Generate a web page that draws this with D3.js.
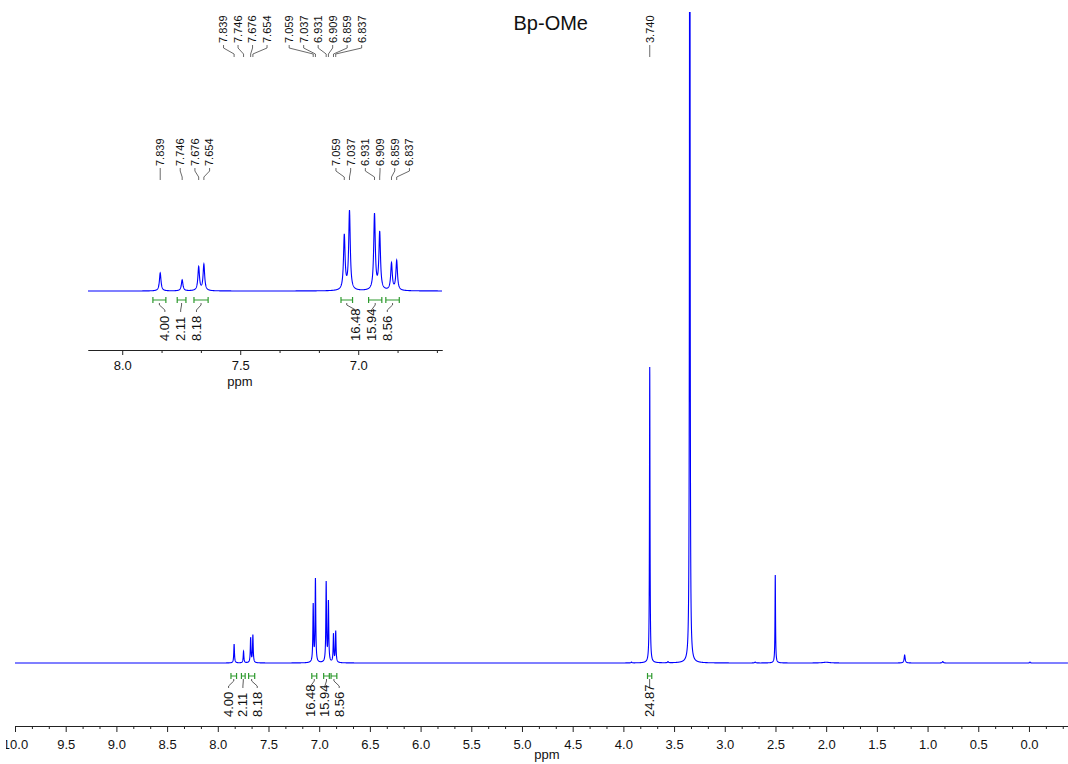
<!DOCTYPE html>
<html>
<head>
<meta charset="utf-8">
<script src="https://cdn.jsdelivr.net/npm/d3@7"></script>
<style>
  html, body { margin: 0; padding: 0; background: #fff; }
  svg { display: block; font-family: "Liberation Sans", Arial, sans-serif; }
</style>
</head>
<body>
<svg id="chart" width="1068" height="764"></svg>
<script>
const TITLE = "Bp-OMe";

// picked peaks: shift (ppm) and height (3.740 singlet = 100)
const peakShifts  = [7.839, 7.746, 7.676, 7.654, 7.059, 7.037, 6.931, 6.909, 6.859, 6.837, 3.740];
const peakHeights = [6.4,   3.9,   8.4,   9.3,   19.3,  28.0,  26.9,  20.3,  9.5,   10.5,  100];
const peakWidths  = [0.004, 0.004, 0.004, 0.004, 0.004, 0.004, 0.004, 0.004, 0.004, 0.004, 0.003];

// unlabelled signals (water, DMSO, grease ...)
const otherShifts  = [3.345,  2.502, 1.226, 0.85,  -0.01, 2.70,  3.92,  3.56,  2.00];
const otherHeights = [520,    29.7,  2.7,   0.5,   0.3,   0.3,   0.3,   0.4,   0.25];
const otherWidths  = [0.0025, 0.003, 0.006, 0.006, 0.004, 0.006, 0.004, 0.005, 0.04];

// integrals
const intStart  = [7.870, 7.767, 7.696, 7.073, 6.956, 6.883, 3.762];
const intEnd    = [7.815, 7.730, 7.636, 7.024, 6.900, 6.826, 3.720];
const intLabels = ["4.00", "2.11", "8.18", "16.48", "15.94", "8.56", "24.87"];

const mainTicks = d3.range(0, 21).map(i => 10 - i * 0.5);
const insetTicks = [8.0, 7.5, 7.0];

const BLUE = "#0000ff";
const GREEN = "#2e9a2e";

const svg = d3.select("#chart");

// --- spectrum from the peak list
const allPeaks = peakShifts.map((s, i) => ({ s, h: peakHeights[i], w: peakWidths[i] }))
  .concat(otherShifts.map((s, i) => ({ s, h: otherHeights[i], w: otherWidths[i] })));

function spectrum(from, to, step) {
  const pts = [];
  for (let p = from; p >= to; p -= step) {
    let y = 0;
    for (const pk of allPeaks) {
      const d = (p - pk.s) / pk.w;
      y += pk.h / (1 + d * d);
    }
    pts.push([p, y]);
  }
  return pts;
}

// labels pushed apart so they do not overlap; close ones are packed as one block
function spread(xs, gap, mergeDist) {
  const md = mergeDist || gap;
  let groups = xs.map((x, i) => ({ items: [{ x, i }], c: x })).sort((a, b) => a.c - b.c);
  let merged = true;
  while (merged) {
    merged = false;
    for (let k = 0; k < groups.length - 1; k++) {
      const a = groups[k], b = groups[k + 1];
      const aR = a.c + (a.items.length - 1) * gap / 2;
      const bL = b.c - (b.items.length - 1) * gap / 2;
      if (bL - aR < md) {
        const items = a.items.concat(b.items);
        groups.splice(k, 2, { items, c: d3.mean(items, d => d.x) });
        merged = true;
        break;
      }
    }
  }
  const out = [];
  groups.forEach(g => {
    g.items.sort((a, b) => a.x - b.x);
    g.items.forEach((it, j) => { out[it.i] = g.c + (j - (g.items.length - 1) / 2) * gap; });
  });
  return out;
}

function drawAxis(g, scale, major, minorStep, tickLen, pad) {
  const [d0, d1] = scale.domain();
  const minor = [];
  for (let v = Math.floor(d0 / minorStep) * minorStep; v >= d1; v -= minorStep) {
    if (v <= d0 && !major.some(m => Math.abs(m - v) < 1e-6)) minor.push(v);
  }
  g.append("g").call(d3.axisBottom(scale).tickValues(minor).tickSize(3).tickFormat("").tickSizeOuter(0));
  const ax = g.append("g").call(d3.axisBottom(scale).tickValues(major).tickSize(tickLen)
    .tickPadding(pad).tickFormat(d3.format(".1f")).tickSizeOuter(0));
  g.selectAll(".domain, .tick line").attr("stroke", "#222");
  ax.selectAll("text").attr("font-size", 13).attr("fill", "#111")
    .attr("font-family", "Liberation Sans, Arial, sans-serif");
  g.selectAll("g").attr("font-family", null).attr("font-size", null);
}

function drawPeakLabels(g, scale, idx, textY, gap) {
  const px = idx.map(i => scale(peakShifts[i]));
  const lx = spread(px, gap);
  idx.forEach((i, k) => {
    g.append("text")
      .attr("transform", `translate(${lx[k]},${textY}) rotate(-90)`)
      .attr("dy", "0.35em")
      .attr("font-size", 11)
      .attr("font-family", "Liberation Sans Narrow, Liberation Sans, Arial, sans-serif")
      .attr("fill", "#111")
      .text(peakShifts[i].toFixed(3));
    const y0 = textY + 2;
    g.append("path")
      .attr("d", `M${lx[k]},${y0} V${y0 + 3} L${px[k]},${y0 + 9} V${y0 + 12}`)
      .attr("fill", "none").attr("stroke", "#444").attr("stroke-width", 0.8);
  });
}

function drawIntegrals(g, scale, idx, markY, textY, gap, mergeDist) {
  const cx = idx.map(i => scale((intStart[i] + intEnd[i]) / 2));
  const lx = spread(cx, gap, mergeDist);
  idx.forEach((i, k) => {
    const a = scale(intStart[i]), b = scale(intEnd[i]);
    g.append("path")
      .attr("d", `M${a},${markY - 3} V${markY + 3} M${a},${markY} H${b} M${b},${markY - 3} V${markY + 3}`)
      .attr("fill", "none").attr("stroke", GREEN).attr("stroke-width", 1.2);
    g.append("path")
      .attr("d", `M${cx[k]},${markY + 3} V${markY + 5} L${lx[k]},${markY + 10} V${markY + 12}`)
      .attr("fill", "none").attr("stroke", "#333").attr("stroke-width", 0.8);
    g.append("text")
      .attr("transform", `translate(${lx[k]},${textY}) rotate(-90)`)
      .attr("dy", "0.35em")
      .attr("font-size", 13)
      .attr("fill", "#111")
      .text(intLabels[i]);
  });
}

// --- main spectrum
const x = d3.scaleLinear().domain([10, -0.385]).range([15, 1068]);
const y = d3.scaleLinear().domain([0, 100]).range([663, 367]);

svg.append("clipPath").attr("id", "mainClip")
  .append("rect").attr("x", 0).attr("y", 12).attr("width", 1068).attr("height", 700);
svg.append("clipPath").attr("id", "axisClip")
  .append("rect").attr("x", 6).attr("y", 0).attr("width", 1062).attr("height", 764);

const mainData = spectrum(10, -0.385, 0.0005);
svg.append("path")
  .datum(mainData)
  .attr("clip-path", "url(#mainClip)")
  .attr("fill", "none").attr("stroke", BLUE).attr("stroke-width", 1.1)
  .attr("d", d3.line().x(d => x(d[0])).y(d => y(d[1])));

const mainAxis = svg.append("g").attr("clip-path", "url(#axisClip)")
  .append("g").attr("transform", "translate(0,726)");
drawAxis(mainAxis, x, mainTicks, 0.5 / 3, 6, 8);
svg.append("text").attr("x", 547).attr("y", 759).attr("text-anchor", "middle")
  .attr("font-size", 13).attr("fill", "#111").text("ppm");

drawPeakLabels(svg.append("g"), x, d3.range(peakShifts.length), 43, 14.5);
drawIntegrals(svg.append("g"), x, d3.range(intLabels.length), 676, 717, 14.3);

svg.append("text").attr("x", 588).attr("y", 30).attr("text-anchor", "end")
  .attr("font-size", 20).attr("fill", "#111").text(TITLE);

// --- inset, aromatic region
const xi = d3.scaleLinear().domain([8.145, 6.645]).range([88, 442]);
const yi = d3.scaleLinear().domain([0, 100]).range([291, 9]);
const insetData = spectrum(8.145, 6.645, 0.0005);
const inset = svg.append("g");
inset.append("path")
  .datum(insetData)
  .attr("fill", "none").attr("stroke", BLUE).attr("stroke-width", 1.1)
  .attr("d", d3.line().x(d => xi(d[0])).y(d => yi(d[1])));

const insetAxis = inset.append("g").attr("transform", "translate(0,350)");
drawAxis(insetAxis, xi, insetTicks, 0.5 / 3, 5, 6);
inset.append("text").attr("x", 240).attr("y", 386).attr("text-anchor", "middle")
  .attr("font-size", 13).attr("fill", "#111").text("ppm");

const insetPeaks = d3.range(peakShifts.length).filter(i => peakShifts[i] < 8.145 && peakShifts[i] > 6.645);
drawPeakLabels(inset.append("g"), xi, insetPeaks, 166, 14.7);
const insetInts = d3.range(intLabels.length).filter(i => intStart[i] < 8.145 && intEnd[i] > 6.645);
drawIntegrals(inset.append("g"), xi, insetInts, 300, 341, 15.8, 30);
</script>
</body>
</html>
